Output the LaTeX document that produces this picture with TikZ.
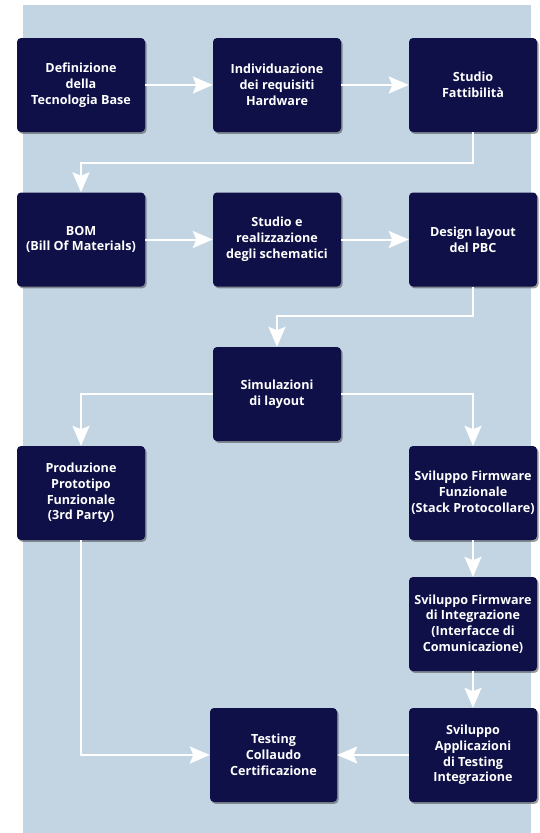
\documentclass[tikz,border=0pt]{standalone}
\usepackage{fontspec}
\setmainfont{Open Sans}
\usetikzlibrary{arrows.meta,shadows,calc}
\definecolor{bgc}{HTML}{C3D5E3}
\definecolor{boxc}{HTML}{0F1048}
\begin{document}
\begin{tikzpicture}[x=1pt,y=-1pt,
 blk/.style={draw=none, fill=boxc, rounded corners=4pt, minimum width=128pt, minimum height=94pt, inner sep=2pt,
   text=white, font=\fontsize{12.6}{15.8}\selectfont\bfseries, align=center,
   drop shadow={shadow xshift=1.5pt, shadow yshift=-1.8pt, opacity=0.55, fill=black!70}},
 conn/.style={draw=white, line width=2pt, -{Stealth[length=20pt,width=17pt,inset=3.5pt]}},
 ln/.style={draw=white, line width=2pt}]
\useasboundingbox (0,0) rectangle (539,833);
\fill[bgc] (23,5) rectangle (531,833);
\node[blk] (b1) at (81,85) {Definizione\\della\\Tecnologia Base};
\node[blk] (b2) at (277,85) {Individuazione\\dei requisiti\\Hardware};
\node[blk] (b3) at (473,85) {Studio\\Fattibilità};
\node[blk] (b4) at (81,239.5) {BOM\\(Bill Of Materials)};
\node[blk] (b5) at (277,239.5) {Studio e\\realizzazione\\degli schematici};
\node[blk] (b6) at (473,239.5) {Design layout\\del PBC};
\node[blk] (b7) at (277,394) {Simulazioni\\di layout};
\node[blk] (b8) at (81,493) {Produzione\\Prototipo\\Funzionale\\(3rd Party)};
\node[blk] (b9) at (473,493) {Sviluppo Firmware\\Funzionale\\(Stack Protocollare)};
\node[blk] (b10) at (473,624) {Sviluppo Firmware\\di Integrazione\\(Interfacce di\\Comunicazione)};
\node[blk] (b11) at (473,755) {Sviluppo\\Applicazioni\\di Testing\\Integrazione};
\node[blk, minimum width=127pt] (b12) at (273.5,755) {Testing\\Collaudo\\Certificazione};
\draw[conn] (b1.east) -- (b2.west);
\draw[conn] (b2.east) -- (b3.west);
\draw[conn] (b3.south) -- ++(0,31) -| (b4.north);
\draw[conn] (b4.east) -- (b5.west);
\draw[conn] (b5.east) -- (b6.west);
\draw[conn] (b6.south) -- ++(0,29) -| (b7.north);
\draw[conn] (b7.west) -| (b8.north);
\draw[conn] (b7.east) -| (b9.north);
\draw[conn] (b9.south) -- (b10.north);
\draw[conn] (b10.south) -- (b11.north);
\draw[conn] (b11.west) -- (b12.east);
\draw[conn] (b8.south) |- (b12.west);
\end{tikzpicture}
\end{document}
